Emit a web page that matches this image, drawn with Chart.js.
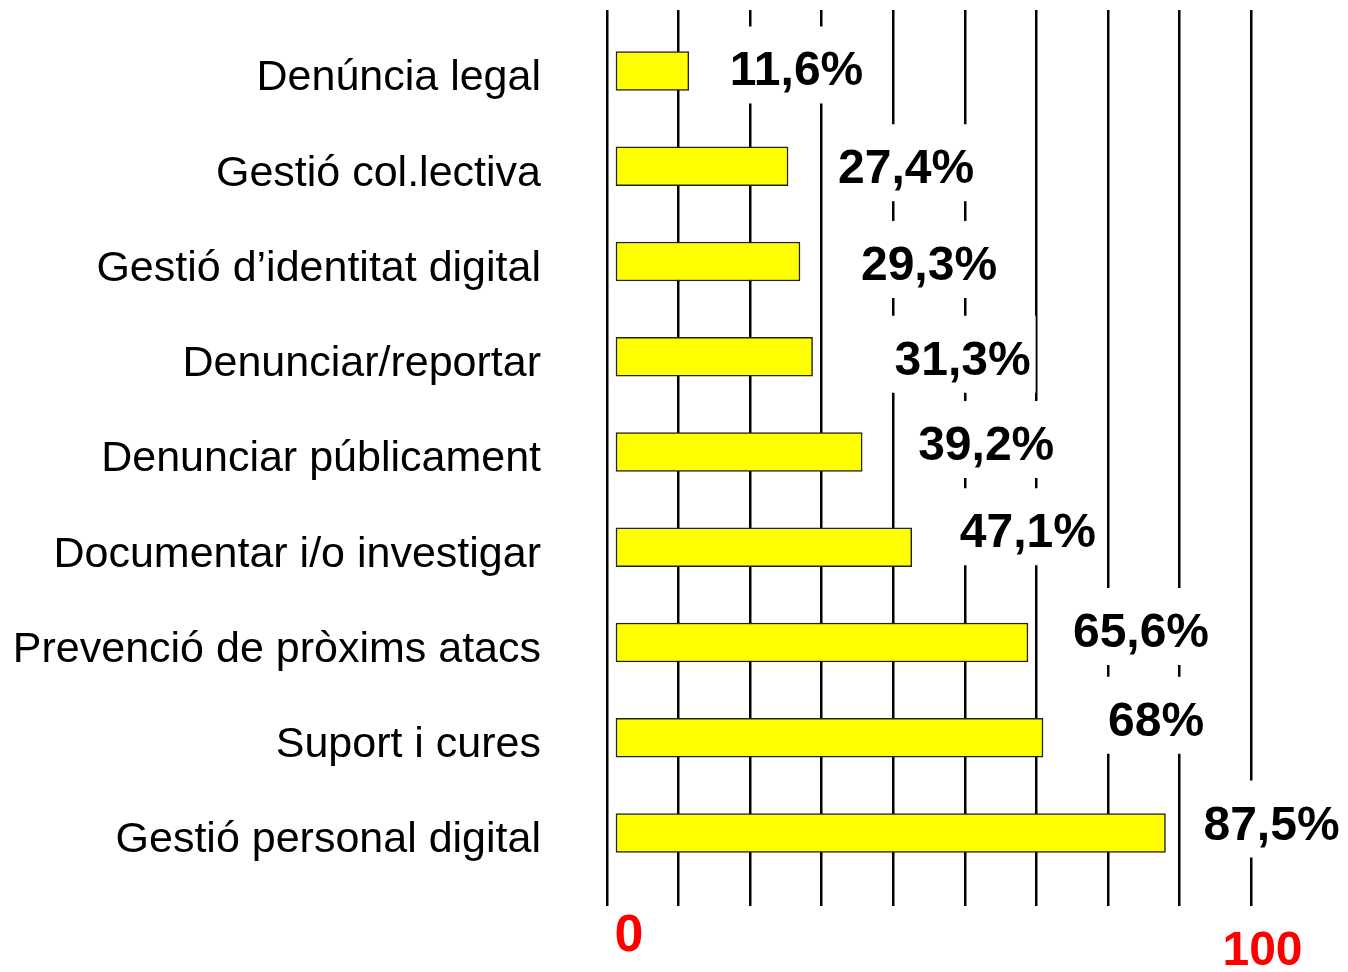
<!DOCTYPE html>
<html>
<head>
<meta charset="utf-8">
<script src="https://cdn.jsdelivr.net/npm/chart.js@4.4.1/dist/chart.umd.min.js"></script>
<style>
  body { margin: 0; background: #fff; }
  #wrap { width: 1348px; height: 972px; }
</style>
</head>
<body>
<div id="wrap"><canvas id="chart"></canvas></div>
<script>
const categories = [
  'Denúncia legal',
  'Gestió col.lectiva',
  'Gestió d’identitat digital',
  'Denunciar/reportar',
  'Denunciar públicament',
  'Documentar i/o investigar',
  'Prevenció de pròxims atacs',
  'Suport i cures',
  'Gestió personal digital'
];
const values = [11.6, 27.4, 29.3, 31.3, 39.2, 47.1, 65.6, 68, 87.5];
const valueLabels = values.map(v => String(v).replace('.', ',') + '%');
const axisLabels = ['0', '100'];

// the value labels sit a bit loosely in the original, so nudge each one
const labelGap = [41, 50, 61, 82, 56, 48, 45, 65, 38];
const labelLift = [-2.5, 0, 1.5, 1, -9, -17, -12.5, -19, -10.5];

const FONT = '"Liberation Sans", Arial, sans-serif';
Chart.defaults.font.family = FONT;
Chart.defaults.color = '#000';

const valueLabelPlugin = {
  id: 'valueLabels',
  afterDatasetsDraw(chart){
    const ctx = chart.ctx;
    const bars = chart.getDatasetMeta(0).data;
    ctx.save();
    ctx.font = 'bold 48px ' + FONT;
    ctx.textAlign = 'left';
    ctx.textBaseline = 'alphabetic';
    bars.forEach((bar, i) => {
      let text = valueLabels[i];
      let w = ctx.measureText(text).width;
      let x = bar.x + labelGap[i];
      let base = bar.y + labelLift[i] + 17;
      // white box behind the label breaks the grid lines
      ctx.fillStyle = '#fff';
      ctx.fillRect(x - 5, base - 59, w + 10, 77);
      ctx.fillStyle = '#000';
      ctx.fillText(text, x, base);
    });

    // red end labels under the grid
    const g = chart.scales.xg;
    const bottom = chart.chartArea.bottom;
    ctx.fillStyle = '#ff0000';
    ctx.textAlign = 'center';
    ctx.font = 'bold 52px ' + FONT;
    ctx.fillText(axisLabels[0], g.getPixelForValue(g.min) + 22, bottom + 45);
    ctx.font = 'bold 48px ' + FONT;
    ctx.fillText(axisLabels[1], g.getPixelForValue(g.max) + 11.5, bottom + 59);
    ctx.restore();
  }
};

new Chart(document.getElementById('chart'), {
  type: 'bar',
  data: {
    datasets: [{
      data: values.map((v, i) => ({ x: v, y: i })),
      backgroundColor: '#ffff00',
      borderColor: '#222',
      borderWidth: 1.5,
      borderSkipped: false,
      barThickness: 39
    }]
  },
  options: {
    indexAxis: 'y',
    responsive: true,
    maintainAspectRatio: false,
    animation: false,
    layout: { padding: { top: 10, right: 97, bottom: 66, left: 0 } },
    plugins: {
      legend: { display: false },
      tooltip: { enabled: false }
    },
    scales: {
      x: {
        type: 'linear',
        min: -1.43,
        max: 101.12,
        display: false
      },
      xg: {
        type: 'linear',
        position: 'bottom',
        min: 0,
        max: 9,
        ticks: { stepSize: 1, display: false },
        grid: { color: '#000', lineWidth: 2.5, drawTicks: false },
        border: { display: false }
      },
      y: {
        type: 'linear',
        min: -0.64,
        max: 8.766,
        bounds: 'data',
        offset: false,
        reverse: true,
        grid: { display: false, drawTicks: false, offset: false },
        border: { display: false },
        afterBuildTicks: s => { s.ticks = categories.map((c, i) => ({ value: i })); },
        afterFit: s => {
          s.width = 607;
          s.paddingTop = 0;
          s.paddingBottom = 0;
        },
        ticks: {
          autoSkip: false,
          padding: 66,
          labelOffset: 7.5,
          font: { size: 43 },
          color: '#000',
          callback: v => categories[v]
        }
      }
    }
  },
  plugins: [valueLabelPlugin]
});
</script>
</body>
</html>
